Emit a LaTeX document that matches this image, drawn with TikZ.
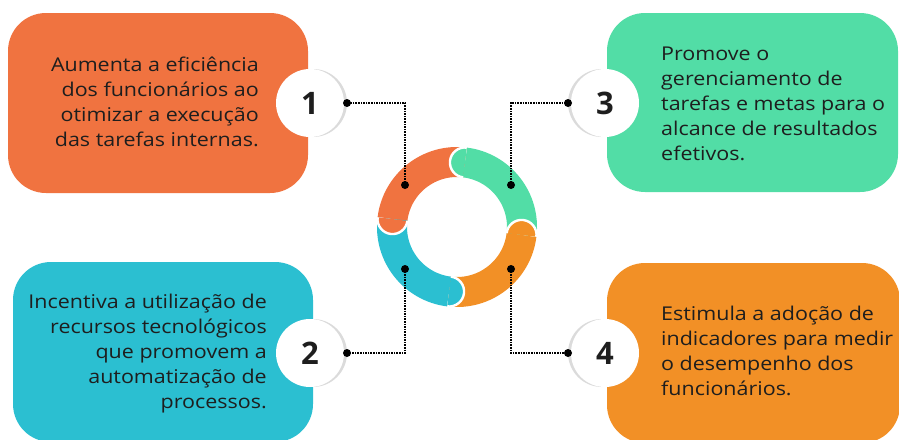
\documentclass[tikz,border=0pt]{standalone}
\usepackage{fontspec}
\setmainfont{Open Sans}
\newfontfamily\descfont{Open Sans}[FakeStretch=1.13]
\definecolor{cA}{HTML}{F07340}
\definecolor{cB}{HTML}{2BBFD1}
\definecolor{cC}{HTML}{52DDA6}
\definecolor{cD}{HTML}{F29026}
\definecolor{txt}{HTML}{1E1E1E}
\tikzset{
  box/.style={rectangle, rounded corners=38pt, draw=none, inner sep=0pt},
  numc/.style={circle, fill=white, minimum size=68pt, inner sep=0pt, font=\fontsize{31}{31}\selectfont\bfseries, text=txt},
  shad/.style={circle, fill=black!14, minimum size=68pt, inner sep=0pt},
  dotn/.style={circle, fill=black, minimum size=8pt, inner sep=0pt},
  conn/.style={black, densely dotted, line width=1.6pt},
  desc/.style={font=\descfont\fontsize{19}{25}\selectfont, text=txt, inner sep=0pt}
}
\begin{document}
\begin{tikzpicture}[x=1pt,y=-1pt]
\useasboundingbox (0,0) rectangle (899,439);
% boxes
\node[box, fill=cA, minimum width=300pt, minimum height=180pt] (b1) at (158,103) {};
\node[box, fill=cC, minimum width=291pt, minimum height=179pt] (b3) at (752.5,102.5) {};
\node[box, fill=cB, minimum width=300pt, minimum height=180pt] (b2) at (163,352) {};
\node[box, fill=cD, minimum width=293pt, minimum height=180pt] (b4) at (753.5,353) {};
% texts
\node[desc, align=right, anchor=east] (t1) at (259,102) {Aumenta a eficiência\\dos funcionários ao\\otimizar a execução\\das tarefas internas.};
\node[desc, align=right, anchor=east] (t2) at (267,354) {Incentiva a utilização de\\recursos tecnológicos\\que promovem a\\automatização de\\processos.};
\node[desc, align=left, anchor=west] (t3) at (661,104) {Promove o\\gerenciamento de\\tarefas e metas para o\\alcance de resultados\\efetivos.};
\node[desc, align=left, anchor=west] (t4) at (661,351) {Estimula a adoção de\\indicadores para medir\\o desempenho dos\\funcionários.};
% number circles
\node[shad] (s1) at (313,103) {};
\node[shad] (s2) at (313,353) {};
\node[shad] (s3) at (602,103) {};
\node[shad] (s4) at (602,353) {};
\node[numc] (n1) at (310,103) {1};
\node[numc] (n2) at (310,353) {2};
\node[numc] (n3) at (605,103) {3};
\node[numc] (n4) at (605,353) {4};
% ring
\begin{scope}[shift={(457,227)}, y=1pt]
  \draw[cA, line width=30pt] (83:65) arc[start angle=83, end angle=173, radius=65];
  \draw[cC, line width=30pt] (-7:65) arc[start angle=-7, end angle=83, radius=65];
  \draw[cD, line width=30pt] (-97:65) arc[start angle=-97, end angle=-7, radius=65];
  \draw[cB, line width=30pt] (-187:65) arc[start angle=-187, end angle=-97, radius=65];
  \foreach \a/\c in {173/cA, 83/cC, -7/cD, -97/cB}{
    \fill[\c] (\a:80) arc[start angle=\a, end angle=\a+180, radius=15] -- cycle;
    \draw[white, line width=2.4pt] (\a:80) arc[start angle=\a, end angle=\a+180, radius=15];
  }
\end{scope}
% dots and connectors
\node[dotn] (r1) at (405,185) {};
\node[dotn] (r3) at (511,185) {};
\node[dotn] (r2) at (405,269) {};
\node[dotn] (r4) at (511,269) {};
\node[dotn] (e1) at (347,103) {};
\node[dotn] (e3) at (568,103) {};
\node[dotn] (e2) at (347,353) {};
\node[dotn] (e4) at (568,353) {};
\draw[conn] (r1.center) |- (e1.center);
\draw[conn] (r3.center) |- (e3.center);
\draw[conn] (r2.center) |- (e2.center);
\draw[conn] (r4.center) |- (e4.center);
\end{tikzpicture}
\end{document}
